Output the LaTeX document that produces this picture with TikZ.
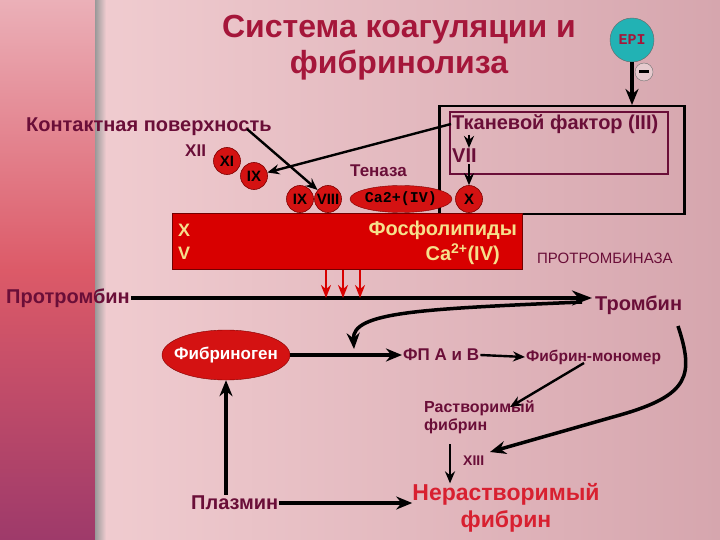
\documentclass[tikz,border=0pt]{standalone}
\usepackage{fontspec}
\setmainfont{Liberation Sans}
\setmonofont{Liberation Mono}
\usetikzlibrary{arrows.meta,shapes.geometric,calc}
\definecolor{maroon}{HTML}{6A0E38}
\definecolor{titlered}{HTML}{A5163A}
\definecolor{bgleft}{HTML}{F0CCD0}
\definecolor{bgright}{HTML}{D6A6AE}
\definecolor{striptop}{HTML}{EBB0B8}
\definecolor{stripmid}{HTML}{DC5A68}
\definecolor{stripbot}{HTML}{9E3A6A}
\definecolor{facred}{HTML}{D41212}
\definecolor{plred}{HTML}{D80000}
\definecolor{yel}{HTML}{F6E08C}
\definecolor{epiteal}{HTML}{22B2B4}
\definecolor{nfred}{HTML}{D82030}
\newcommand{\fs}[1]{\fontsize{#1}{#1}\selectfont}
\tikzset{
  lbl/.style={text=maroon, font=\bfseries\fs{#1}, inner sep=1pt},
  fac/.style={circle, fill=facred, draw=red!50!black, line width=0.6pt, minimum size=27pt, inner sep=0pt, font=\bfseries\fs{15}},
  arr/.style={draw=black, line width=3.5pt, -{Stealth[length=16pt,width=13pt]}},
  arrthin/.style={draw=black, line width=2.4pt, -{Stealth[length=12pt,width=10pt]}},
  redarr/.style={draw=plred, line width=2.5pt, -{Stealth[length=13pt,width=10pt]}},
}
\begin{document}
\begin{tikzpicture}[x=1pt,y=-1pt]
\useasboundingbox (0,0) rectangle (720,540);
% background
\shade[left color=bgleft, right color=bgright] (95,0) rectangle (720,540);
\shade[top color=striptop, bottom color=stripbot, middle color=stripmid] (0,0) rectangle (95,540);
\shade[left color=black!40, right color=bgleft] (95,0) rectangle (106,540);

% title
\node[text=titlered, font=\bfseries\fs{32}, inner sep=0pt] (t1) at (399,30) {Система коагуляции и};
\node[text=titlered, font=\bfseries\fs{32}, inner sep=0pt] (t2) at (399,65) {фибринолиза};

% EPI
\node[circle, fill=epiteal, draw=black!60, minimum size=44pt, inner sep=0pt, text=titlered, font=\ttfamily\bfseries\fs{15}] (epi) at (632,40) {EPI};
\node[circle, draw=black!55, fill=bgright!60!white, minimum size=18pt, inner sep=0pt] (minus) at (644,72) {\rule{10pt}{3pt}};

% tissue factor boxes
\node[draw=black, line width=2.5pt, minimum width=245pt, minimum height=108pt, anchor=north west, inner sep=0pt] (tfbox) at (438,105) {};
\node[draw=maroon, line width=2pt, minimum width=218pt, minimum height=62pt, anchor=north west, inner sep=0pt] (tfin) at (449,111) {};
\node[lbl=20, anchor=west] (tf) at (451,124) {Тканевой фактор (III)};
\node[lbl=20, anchor=west] (vii) at (451,156) {VII};
\node[fac] (x10) at (469,199) {X};

\draw[arr] (epi.south) -- (epi.south |- tfbox.north);
\draw[arrthin] (x10.north |- tf.south) -- (x10.north |- vii.north);
\draw[arrthin] (x10.north |- vii.south) -- (x10.north);

% contact surface
\node[lbl=20, anchor=west] (cp) at (25,127) {Контактная поверхность};
\node[lbl=17, anchor=west] (xii) at (184,151) {XII};
\node[fac] (xi) at (227,161) {XI};
\node[fac] (ix1) at (254,176) {IX};
\node[fac] (ix2) at (300,199) {IX};
\node[fac] (viii) at (328,199) {VIII};
\node[lbl=17, anchor=west] (ten) at (349,171) {Теназа};
\node[ellipse, fill=facred, draw=red!50!black, minimum width=102pt, minimum height=27pt, inner sep=0pt, font=\ttfamily\bfseries\fs{15}] (ca) at (401,199) {Ca2+(IV)};

\coordinate (cpst) at (247,129);
\draw[arrthin] (cpst) -- (viii);
\draw[arrthin] (tf.west) -- (ix1);

% phospholipid block
\node[draw=red!45!black, line width=0.8pt, fill=plred, minimum width=350pt, minimum height=56pt, anchor=north west, inner sep=0pt] (pl) at (172,213) {};
\node[text=yel, font=\bfseries\fs{18}, anchor=west, inner sep=0pt] (plx) at (178,230) {X};
\node[text=yel, font=\bfseries\fs{18}, anchor=west, inner sep=0pt] (plv) at (178,253) {V};
\node[text=yel, font=\bfseries\fs{20}, anchor=east, inner sep=0pt] (fos) at (517,230) {Фосфолипиды};
\node[text=yel, font=\bfseries\fs{20}, anchor=east, inner sep=0pt] (ca2) at (500,254) {Ca\textsuperscript{2+}(IV)};
\node[text=maroon, font=\fs{15}, anchor=west, inner sep=0pt] (ptb) at (537,258) {ПРОТРОМБИНАЗА};

% prothrombin -> thrombin
\node[lbl=20, anchor=west] (prot) at (5,298) {Протромбин};
\node[lbl=20, anchor=west] (thr) at (594,305) {Тромбин};
\coordinate (lineend) at (592,298);
\draw[arr, line width=4pt, -{Stealth[length=20pt,width=15pt]}] (prot.east) -- (lineend);

\coordinate (r1) at (326,298);
\coordinate (r2) at (343,298);
\coordinate (r3) at (360,298);
\draw[redarr] (pl.south -| r1) -- (r1);
\draw[redarr] (pl.south -| r2) -- (r2);
\draw[redarr] (pl.south -| r3) -- (r3);

% fibrinogen line
\node[ellipse, fill=facred, draw=red!50!black, minimum width=128pt, minimum height=50pt, inner sep=0pt] (fib) at (226,355) {};
\node[text=white, font=\bfseries\fs{17}, inner sep=0pt] (fibt) at (fib.center) {Фибриноген};
\node[lbl=17, anchor=west] (fpab) at (402,355) {ФП А и В};
\node[lbl=15.5, anchor=west] (fm) at (525,357) {Фибрин-мономер};
\draw[arr] (fib.east) -- (fpab.west);
\draw[arrthin] (fpab.east) -- (fm.west);

\coordinate (cvst) at (582,302);
\coordinate (cvend) at (354,349);
\draw[arr] (cvst) .. controls (420,309) and (352,312) .. (cvend);

% soluble fibrin
\node[lbl=16, anchor=north west, align=left] (rf) at (423,399) {Растворимый\\[2pt]фибрин};
\coordinate (fmst) at (584,363);
\coordinate (fmend) at (510,407);
\draw[arrthin] (fmst) -- (fmend);

\node[lbl=14, anchor=west] (xiii) at (462,461) {XIII};
\coordinate (thst) at (678,326);
\coordinate (thend) at (490,452);
\draw[arr] (thst) .. controls (694,375) and (690,395) .. (620,415) -- (thend);

% insoluble fibrin
\node[text=nfred, font=\bfseries\fs{23}, align=center, inner sep=0pt] (nf) at (506,508) {Нерастворимый\\[4pt]фибрин};
\coordinate (a13s) at (450,444);
\draw[arrthin] (a13s) -- (a13s |- nf.north);

\node[lbl=20, anchor=west] (plz) at (190,503) {Плазмин};
\draw[arr] (plz.east) -- (plz.east -| nf.west);
\draw[arr] (fib.south |- plz.north) -- (fib.south);
\end{tikzpicture}
\end{document}
